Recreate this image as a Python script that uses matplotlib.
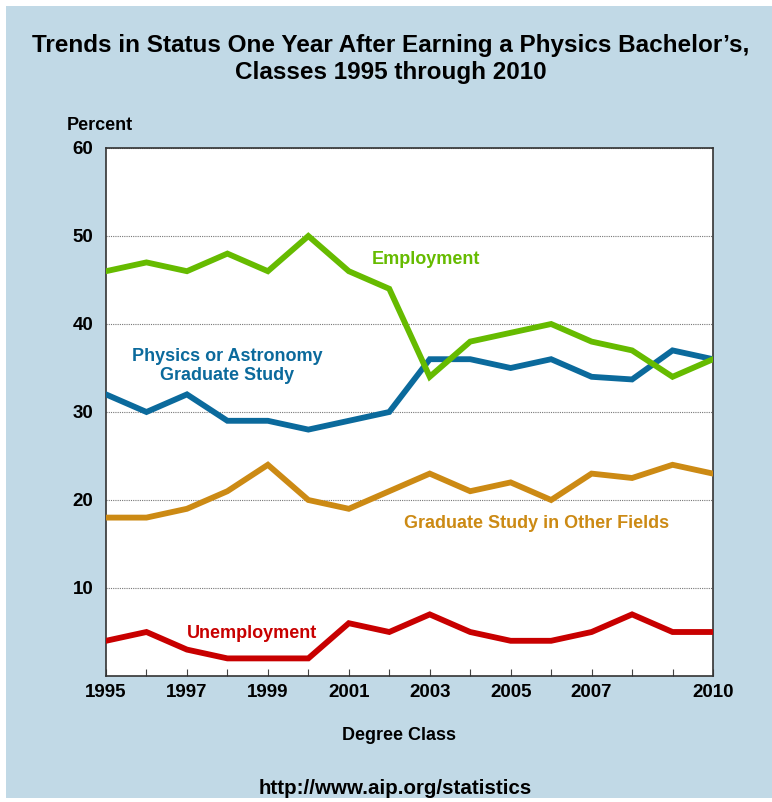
import matplotlib.pyplot as plt
from matplotlib.patches import Rectangle

# данные
years = list(range(1995, 2011))
employment = [46, 47, 46, 48, 46, 50, 46, 44, 34, 38, 39, 40, 38, 37, 34, 36]
phys_grad = [32, 30, 32, 29, 29, 28, 29, 30, 36, 36, 35, 36, 34, 33.7, 37, 36]
other_grad = [18, 18, 19, 21, 24, 20, 19, 21, 23, 21, 22, 20, 23, 22.5, 24, 23]
unemployment = [4, 5, 3, 2, 2, 2, 6, 5, 7, 5, 4, 4, 5, 7, 5, 5]

x_labels = {1995: '1995', 1997: '1997', 1999: '1999', 2001: '2001',
            2003: '2003', 2005: '2005', 2007: '2007', 2010: '2010'}
y_ticks = [10, 20, 30, 40, 50, 60]

bg = '#c1d9e6'
c_emp = '#66bb00'
c_phys = '#0b6a9c'
c_other = '#cc8a14'
c_unemp = '#c80000'

plt.rcParams['font.family'] = ['Liberation Sans', 'DejaVu Sans']
plt.rcParams['font.weight'] = 'bold'

fig = plt.figure(figsize=(7.72, 8.02), dpi=100)
fig.patch.set_facecolor('white')
# светло-голубой фон с белой рамкой сверху и слева
fig.patches.append(Rectangle((6 / 772, 4 / 802), 1, 1 - 10 / 802,
                             transform=fig.transFigure, facecolor=bg,
                             edgecolor='none', zorder=-5))

ax = fig.add_axes([106 / 772, 1 - 676 / 802, 607 / 772, 528 / 802])
ax.set_facecolor('white')

lw = 4.2
ax.plot(years, other_grad, color=c_other, lw=lw, solid_joinstyle='miter', zorder=3)
ax.plot(years, unemployment, color=c_unemp, lw=lw, solid_joinstyle='miter', zorder=3)
ax.plot(years, phys_grad, color=c_phys, lw=lw, solid_joinstyle='miter', zorder=3)
ax.plot(years, employment, color=c_emp, lw=lw, solid_joinstyle='miter', zorder=4)

ax.set_xlim(1995, 2010)
ax.set_ylim(0, 60)
ax.set_xticks(years)
ax.set_xticklabels([x_labels.get(y, '') for y in years])
ax.set_yticks(y_ticks)
ax.tick_params(axis='x', direction='in', length=5, width=0.8, pad=6,
               labelsize=13.5, color='#444444')
ax.tick_params(axis='y', length=0, pad=9, labelsize=13.5)
for lab in ax.get_xticklabels() + ax.get_yticklabels():
    lab.set_fontweight('bold')

ax.grid(axis='y', linestyle=(0, (1, 1)), color='#777777', lw=0.8)
for s in ax.spines.values():
    s.set_color('#333333')
    s.set_linewidth(1.2)

# подписи серий
ax.text(2002.9, 47.3, 'Employment', color=c_emp, fontsize=13,
        fontweight='bold', ha='center', va='center')
ax.text(1998, 35.2, 'Physics or Astronomy\nGraduate Study', color=c_phys,
        fontsize=13, fontweight='bold', ha='center', va='center',
        linespacing=1.15)
ax.text(2005.65, 17.3, 'Graduate Study in Other Fields', color=c_other,
        fontsize=13, fontweight='bold', ha='center', va='center')
ax.text(1998.6, 4.8, 'Unemployment', color=c_unemp, fontsize=13,
        fontweight='bold', ha='center', va='center')

fig.text(391 / 772, 1 - 59 / 802,
         'Trends in Status One Year After Earning a Physics Bachelor\u2019s,\n'
         'Classes 1995 through 2010', ha='center', va='center',
         fontsize=17.5, fontweight='bold', linespacing=1.25)
fig.text(67 / 772, 1 - 126 / 802, 'Percent', ha='left', va='center',
         fontsize=13, fontweight='bold')
fig.text(399 / 772, 1 - 735 / 802, 'Degree Class', ha='center', va='center',
         fontsize=13, fontweight='bold')
fig.text(395 / 772, 1 - 789 / 802, 'http://www.aip.org/statistics',
         ha='center', va='center', fontsize=14.8, fontweight='bold')

fig.savefig('out.png', dpi=100, facecolor=fig.get_facecolor())
